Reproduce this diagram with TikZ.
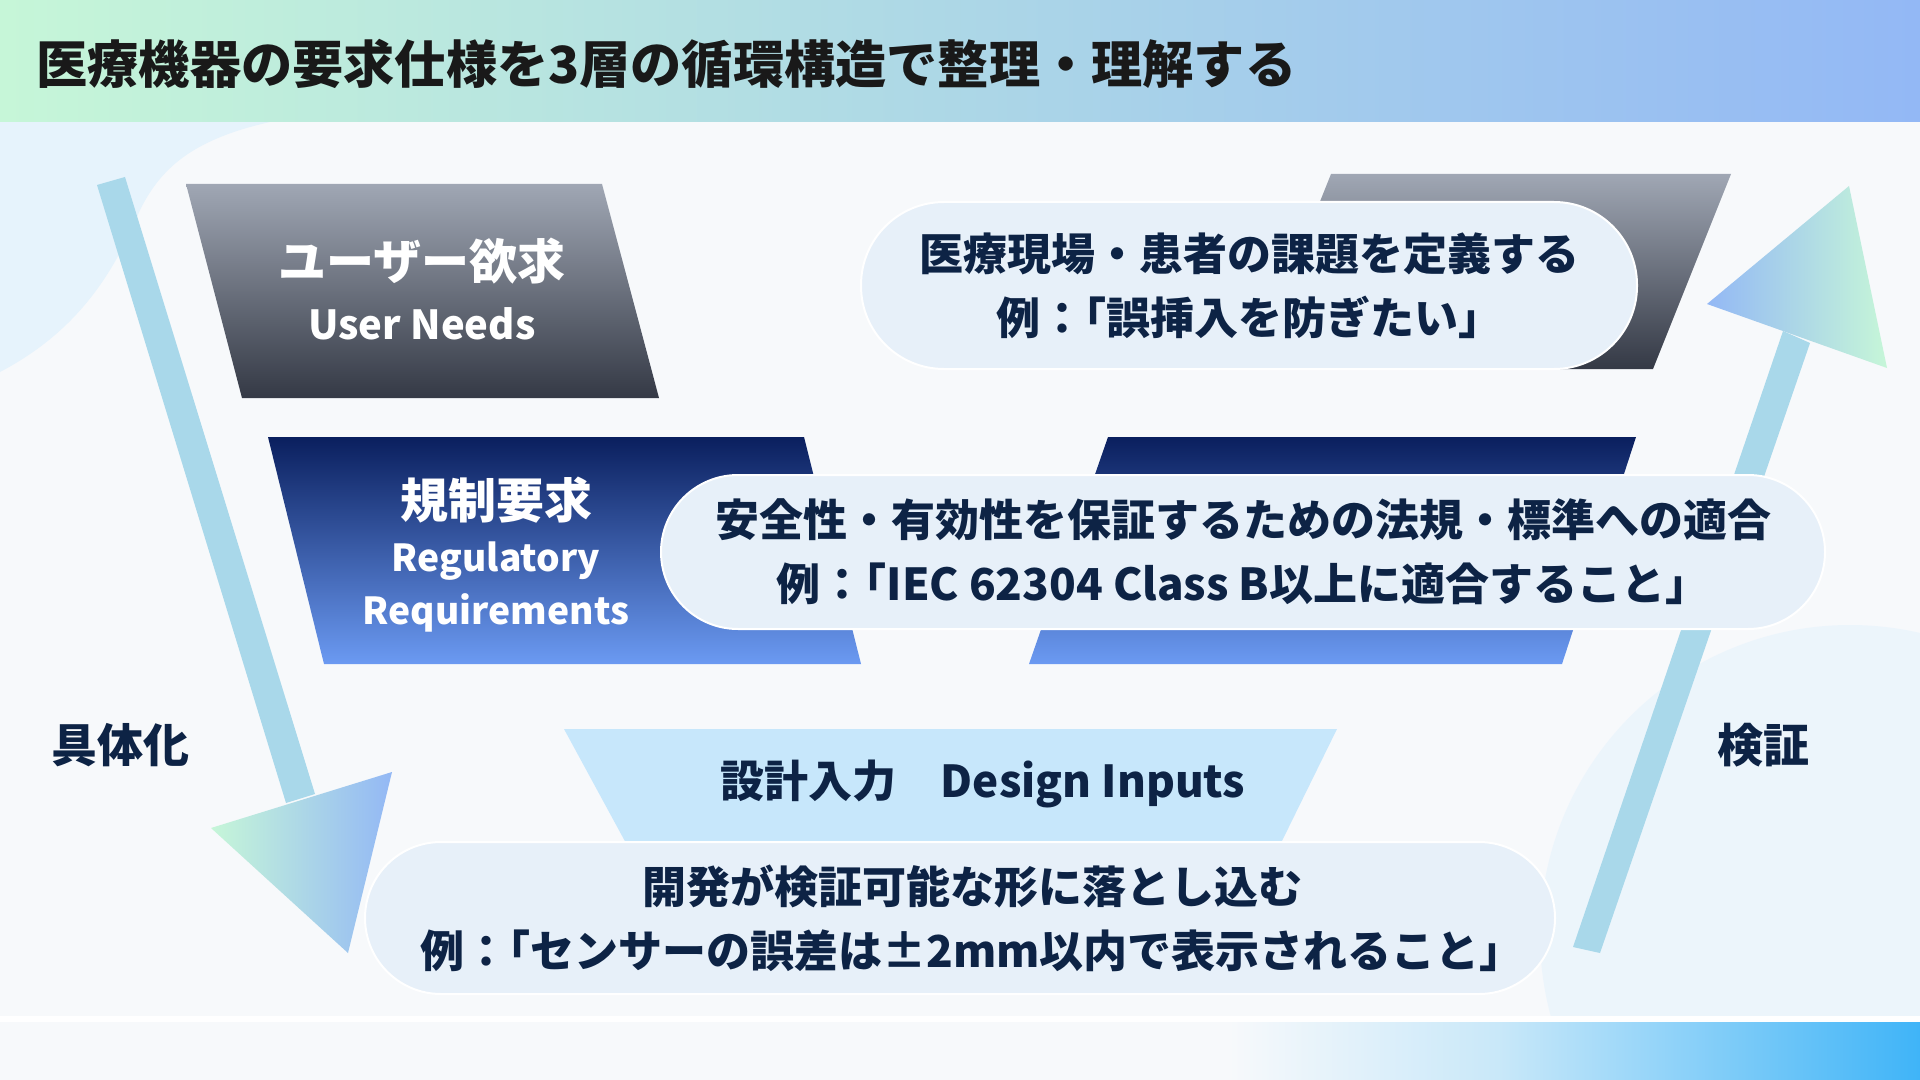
\documentclass[tikz,border=0pt]{standalone}
\usepackage{fontspec}
\setmainfont{Noto Sans CJK JP}
\usetikzlibrary{calc}
\newcommand\kagiopen{{\addfontfeature{RawFeature=+halt}「}}
\definecolor{navytxt}{HTML}{0D2345}
\definecolor{boxfill}{HTML}{E7F0F9}
\definecolor{mint}{HTML}{C6F6D8}
\definecolor{skyb}{HTML}{93B8F5}
\definecolor{shaftc}{HTML}{A9D8EA}
\definecolor{graytop}{HTML}{A0A7B4}
\definecolor{graybot}{HTML}{343945}
\definecolor{navytop}{HTML}{0A1F5E}
\definecolor{navybot}{HTML}{6B9AF2}
\definecolor{lightpara}{HTML}{C7E7FB}
\definecolor{bgmain}{HTML}{F7F9FB}
\definecolor{bandlb}{HTML}{C9E8F9}
\definecolor{bandb}{HTML}{3FB4F8}
\definecolor{blobc}{HTML}{E6F3FC}
\pgfdeclarehorizontalshading{bandshade}{100bp}{color(0bp)=(bgmain); color(25bp)=(bgmain); color(57bp)=(bgmain); color(64bp)=(bandlb); color(75bp)=(bandb); color(100bp)=(bandb)}
\tikzset{
  pbox/.style={fill=boxfill, draw=white, line width=1pt, text=navytxt, align=center,
    font=\fontsize{22}{32}\selectfont\bfseries, inner sep=0pt},
  lbl/.style={text=white, align=center, inner sep=0pt},
  sidelbl/.style={text=navytxt, font=\fontsize{23}{26}\selectfont\bfseries, inner sep=0pt},
}
\begin{document}
\begin{tikzpicture}[x=0.5pt,y=-0.5pt]
\useasboundingbox (0,0) rectangle (1920,1080);
% backgrounds
\fill[bgmain] (0,0) rectangle (1920,1080);
\fill[blobc] (0,122) -- (270,122) .. controls (190,140) and (160,170) .. (140,210) .. controls (115,270) and (80,330) .. (0,372) -- cycle;
\fill[blobc, opacity=0.6] (1850,935) circle (310);
\fill[bgmain] (0,1017) rectangle (1920,1080);
\fill[white] (0,1016) rectangle (1920,1022);
\shade[shading=bandshade] (0,1022) rectangle (1920,1080);
\shade[left color=mint, right color=skyb] (0,0) rectangle (1920,122);
\node[anchor=west, text=black!90, font=\fontsize{25.6}{30}\selectfont\bfseries, inner sep=0pt] (title) at (36,64) {医療機器の要求仕様を3層の循環構造で整理・理解する};

% arrows (behind the boxes)
\fill[shaftc] (97,185) -- (125,177) -- (315,794) -- (286,803) -- cycle;
\shade[left color=mint, right color=skyb] (211,828) -- (392,772) -- (348,953) -- cycle;
\fill[shaftc] (1573,947) -- (1600,953) -- (1810,343) -- (1783,331) -- cycle;
\shade[left color=skyb, right color=mint] (1707,304) -- (1849,186) -- (1887,368) -- cycle;

% layer 1
\shade[top color=graytop, bottom color=graybot] (186,184) -- (602,184) -- (659,398) -- (242,398) -- cycle;
\shade[top color=graytop, bottom color=graybot] (1331,174) -- (1731,174) -- (1653,369) -- (1253,369) -- cycle;
\node[lbl, font=\fontsize{24}{28}\selectfont\bfseries] (unj) at (422,261) {ユーザー欲求};
\node[lbl, font=\fontsize{20}{24}\selectfont\bfseries] (une) at (422,324) {User Needs};
\node[pbox, minimum width=388pt, minimum height=83.5pt, rounded corners=41.5pt] (b1) at (1249,285.5) {医療現場・患者の課題を定義する\\例：\kagiopen 誤挿入を防ぎたい」};

% layer 2
\shade[top color=navytop, bottom color=navybot] (268,437) -- (804,437) -- (861,664) -- (324,664) -- cycle;
\shade[top color=navytop, bottom color=navybot] (1108,437) -- (1636,437) -- (1562,664) -- (1029,664) -- cycle;
\node[lbl, font=\fontsize{24}{28}\selectfont\bfseries] (rrj) at (496,500) {規制要求};
\node[lbl, font=\fontsize{18.6}{22}\selectfont\bfseries] (rre1) at (496,561) {Regulatory};
\node[lbl, font=\fontsize{18.6}{22}\selectfont\bfseries] (rre2) at (496,613) {Requirements};
\node[pbox, minimum width=582pt, minimum height=77pt, rounded corners=38.5pt] (b2) at (1243,552) {安全性・有効性を保証するための法規・標準への適合\\例：\kagiopen IEC 62304 Class B以上に適合すること」};

% layer 3
\fill[lightpara] (564,729) -- (1337,729) -- (1280,845) -- (627,845) -- cycle;
\node[text=navytxt, font=\fontsize{22}{26}\selectfont\bfseries, inner sep=0pt] (di) at (983,784) {設計入力　Design Inputs};
\node[pbox, minimum width=595pt, minimum height=76pt, rounded corners=38pt] (b3) at (960,918) {\hspace*{12pt}開発が検証可能な形に落とし込む\\\hspace*{12pt}例：\kagiopen センサーの誤差は±2mm以内で表示されること」};

\node[sidelbl] (gut) at (120,745) {具体化};
\node[sidelbl] (ken) at (1763,745) {検証};
\end{tikzpicture}
\end{document}
